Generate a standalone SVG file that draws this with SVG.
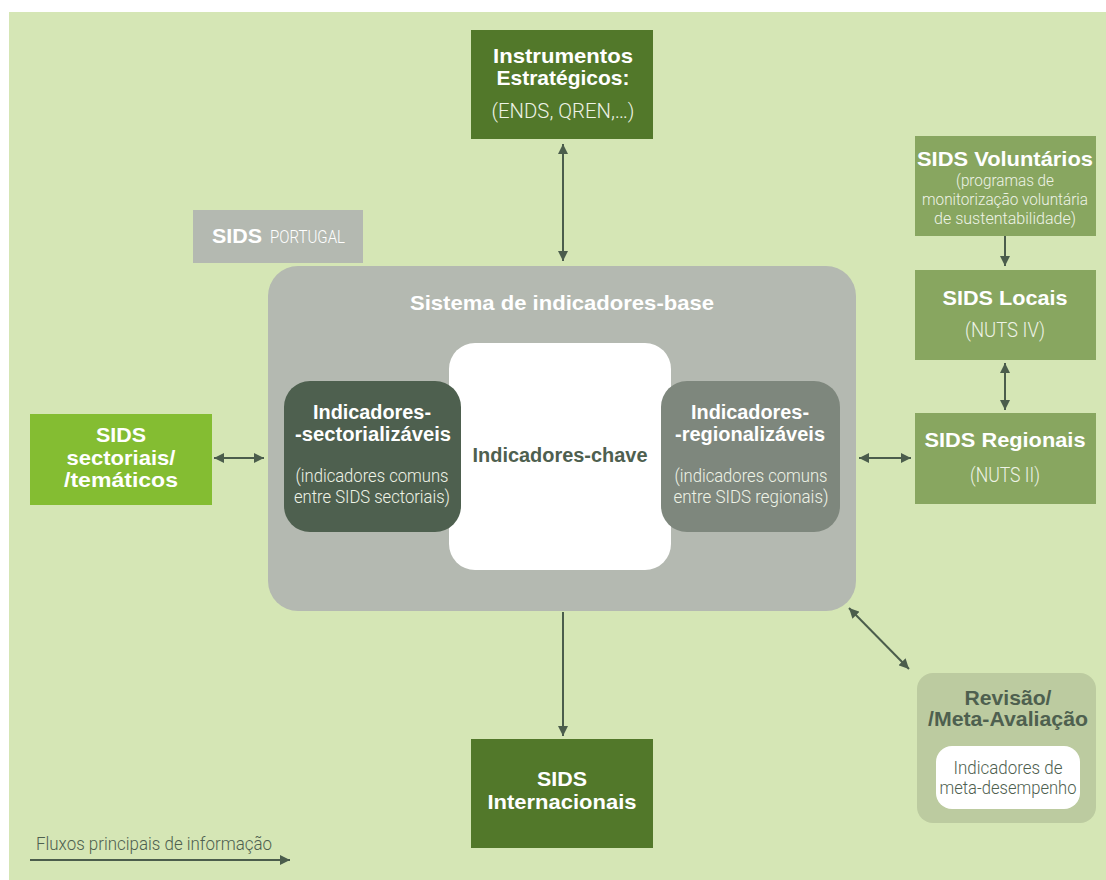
<svg xmlns="http://www.w3.org/2000/svg" width="1106" height="880" viewBox="0 0 1106 880">
<defs>
<marker id="ah" viewBox="0 0 10 10" refX="10" refY="5" markerWidth="5" markerHeight="5" orient="auto-start-reverse" markerUnits="strokeWidth">
<path d="M0,0 L10,5 L0,10 z" fill="#4b5d4c"/>
</marker>
<style>
.b{font-family:"Liberation Sans",Arial,sans-serif;font-weight:bold;text-anchor:middle}
.l{font-family:Roboto,"Liberation Sans",sans-serif;font-weight:300;text-anchor:middle}
.w{fill:#ffffff}
.lw{fill:#eef3e6}
.c{stroke:#4b5d4c;stroke-width:2;fill:none;marker-end:url(#ah)}
.cc{stroke:#4b5d4c;stroke-width:2;fill:none;marker-end:url(#ah);marker-start:url(#ah)}
</style>
</defs>
<rect x="9" y="12" width="1097" height="868" fill="#d5e6b5"/>

<g id="sids-portugal">
<rect x="193" y="210" width="170" height="53" fill="#b4b9b1"/>
<text x="212" y="243" font-family="Liberation Sans, Arial, sans-serif" font-weight="bold" font-size="21" fill="#ffffff" textLength="50" lengthAdjust="spacingAndGlyphs">SIDS</text>
<text x="270" y="243" font-family="Roboto, Liberation Sans, sans-serif" font-weight="300" font-size="17.5" fill="#ffffff" textLength="75" lengthAdjust="spacingAndGlyphs">PORTUGAL</text>
</g>

<g id="sistema-base">
<rect x="268" y="266" width="588" height="345" rx="30" fill="#b4b9b1"/>
<text class="b w" x="562" y="310" font-size="20.5" textLength="304" lengthAdjust="spacingAndGlyphs">Sistema de indicadores-base</text>
</g>

<g id="indicadores-chave">
<rect x="449" y="343" width="222" height="227" rx="26" fill="#ffffff"/>
<text class="b" x="560" y="462" font-size="20" fill="#4e604f" textLength="175" lengthAdjust="spacingAndGlyphs">Indicadores-chave</text>
</g>

<g id="sectorializaveis">
<rect x="284" y="381" width="177" height="151" rx="26" fill="#4e604f"/>
<text class="b w" x="372" y="419" font-size="20" textLength="118" lengthAdjust="spacingAndGlyphs">Indicadores-</text>
<text class="b w" x="373" y="441" font-size="20" textLength="156" lengthAdjust="spacingAndGlyphs">-sectorializáveis</text>
<text class="l lw" x="372" y="482" font-size="19" textLength="153" lengthAdjust="spacingAndGlyphs">(indicadores comuns</text>
<text class="l lw" x="372" y="503" font-size="19" textLength="156" lengthAdjust="spacingAndGlyphs">entre SIDS sectoriais)</text>
</g>

<g id="regionalizaveis">
<rect x="661" y="381" width="179" height="151" rx="26" fill="#7e877d"/>
<text class="b w" x="750" y="419" font-size="20" textLength="118" lengthAdjust="spacingAndGlyphs">Indicadores-</text>
<text class="b w" x="750" y="441" font-size="20" textLength="150" lengthAdjust="spacingAndGlyphs">-regionalizáveis</text>
<text class="l lw" x="751" y="482" font-size="19" textLength="153" lengthAdjust="spacingAndGlyphs">(indicadores comuns</text>
<text class="l lw" x="751" y="503" font-size="19" textLength="155" lengthAdjust="spacingAndGlyphs">entre SIDS regionais)</text>
</g>

<g id="instrumentos">
<rect x="471" y="30" width="182" height="109" fill="#52782a"/>
<text class="b w" x="563" y="63" font-size="21" textLength="140" lengthAdjust="spacingAndGlyphs">Instrumentos</text>
<text class="b w" x="563" y="85" font-size="21" textLength="133" lengthAdjust="spacingAndGlyphs">Estratégicos:</text>
<text class="l lw" x="563" y="118" font-size="20" textLength="143" lengthAdjust="spacingAndGlyphs">(ENDS, QREN,…)</text>
</g>

<g id="internacionais">
<rect x="471" y="739" width="182" height="109" fill="#52782a"/>
<text class="b w" x="562" y="786" font-size="21" textLength="50" lengthAdjust="spacingAndGlyphs">SIDS</text>
<text class="b w" x="562" y="809" font-size="21" textLength="149" lengthAdjust="spacingAndGlyphs">Internacionais</text>
</g>

<g id="sectoriais">
<rect x="30" y="414" width="182" height="91" fill="#84bd32"/>
<text class="b w" x="121" y="442" font-size="21" textLength="50" lengthAdjust="spacingAndGlyphs">SIDS</text>
<text class="b w" x="121" y="465" font-size="21" textLength="109" lengthAdjust="spacingAndGlyphs">sectoriais/</text>
<text class="b w" x="121" y="487" font-size="21" textLength="114" lengthAdjust="spacingAndGlyphs">/temáticos</text>
</g>

<g id="voluntarios">
<rect x="915" y="136" width="181" height="100" fill="#88a660"/>
<text class="b w" x="1005" y="166" font-size="21" textLength="176" lengthAdjust="spacingAndGlyphs">SIDS Voluntários</text>
<text class="l lw" x="1005" y="186" font-size="16.5" textLength="98" lengthAdjust="spacingAndGlyphs">(programas de</text>
<text class="l lw" x="1005" y="205" font-size="16.5" textLength="166" lengthAdjust="spacingAndGlyphs">monitorização voluntária</text>
<text class="l lw" x="1005" y="224" font-size="16.5" textLength="142" lengthAdjust="spacingAndGlyphs">de sustentabilidade)</text>
</g>

<g id="locais">
<rect x="915" y="270" width="181" height="90" fill="#88a660"/>
<text class="b w" x="1005" y="305" font-size="21" textLength="125" lengthAdjust="spacingAndGlyphs">SIDS Locais</text>
<text class="l lw" x="1005" y="337" font-size="20" textLength="80" lengthAdjust="spacingAndGlyphs">(NUTS IV)</text>
</g>

<g id="regionais">
<rect x="915" y="413" width="181" height="91" fill="#88a660"/>
<text class="b w" x="1005" y="447" font-size="21" textLength="161" lengthAdjust="spacingAndGlyphs">SIDS Regionais</text>
<text class="l lw" x="1005" y="482" font-size="20" textLength="70" lengthAdjust="spacingAndGlyphs">(NUTS II)</text>
</g>

<g id="revisao">
<rect x="917" y="673" width="179" height="150" rx="16" fill="#bccba0"/>
<text class="b" x="1008" y="705" font-size="20" fill="#4e604f" textLength="87" lengthAdjust="spacingAndGlyphs">Revisão/</text>
<text class="b" x="1008" y="726" font-size="20" fill="#4e604f" textLength="160" lengthAdjust="spacingAndGlyphs">/Meta-Avaliação</text>
<rect x="936" y="746" width="144" height="63" rx="16" fill="#ffffff"/>
<text class="l" x="1008" y="774" font-size="17.5" fill="#4e604f" textLength="109" lengthAdjust="spacingAndGlyphs">Indicadores de</text>
<text class="l" x="1008" y="794" font-size="17.5" fill="#4e604f" textLength="137" lengthAdjust="spacingAndGlyphs">meta-desempenho</text>
</g>

<g id="connectors">
<line class="cc" x1="563" y1="144" x2="563" y2="261"/>
<line class="c" x1="563" y1="612" x2="563" y2="736"/>
<line class="cc" x1="214" y1="458" x2="264" y2="458"/>
<line class="cc" x1="859" y1="458" x2="911" y2="458"/>
<line class="c" x1="1005" y1="236" x2="1005" y2="266"/>
<line class="cc" x1="1005" y1="363" x2="1005" y2="410"/>
<line class="cc" x1="849" y1="608" x2="909" y2="669"/>
<line class="c" x1="30" y1="860" x2="290" y2="860"/>
</g>

<g id="legend">
<text x="36" y="850" font-family="Roboto, Liberation Sans, sans-serif" font-weight="300" font-size="18.5" fill="#4e604f" textLength="236" lengthAdjust="spacingAndGlyphs">Fluxos principais de informação</text>
</g>
</svg>
